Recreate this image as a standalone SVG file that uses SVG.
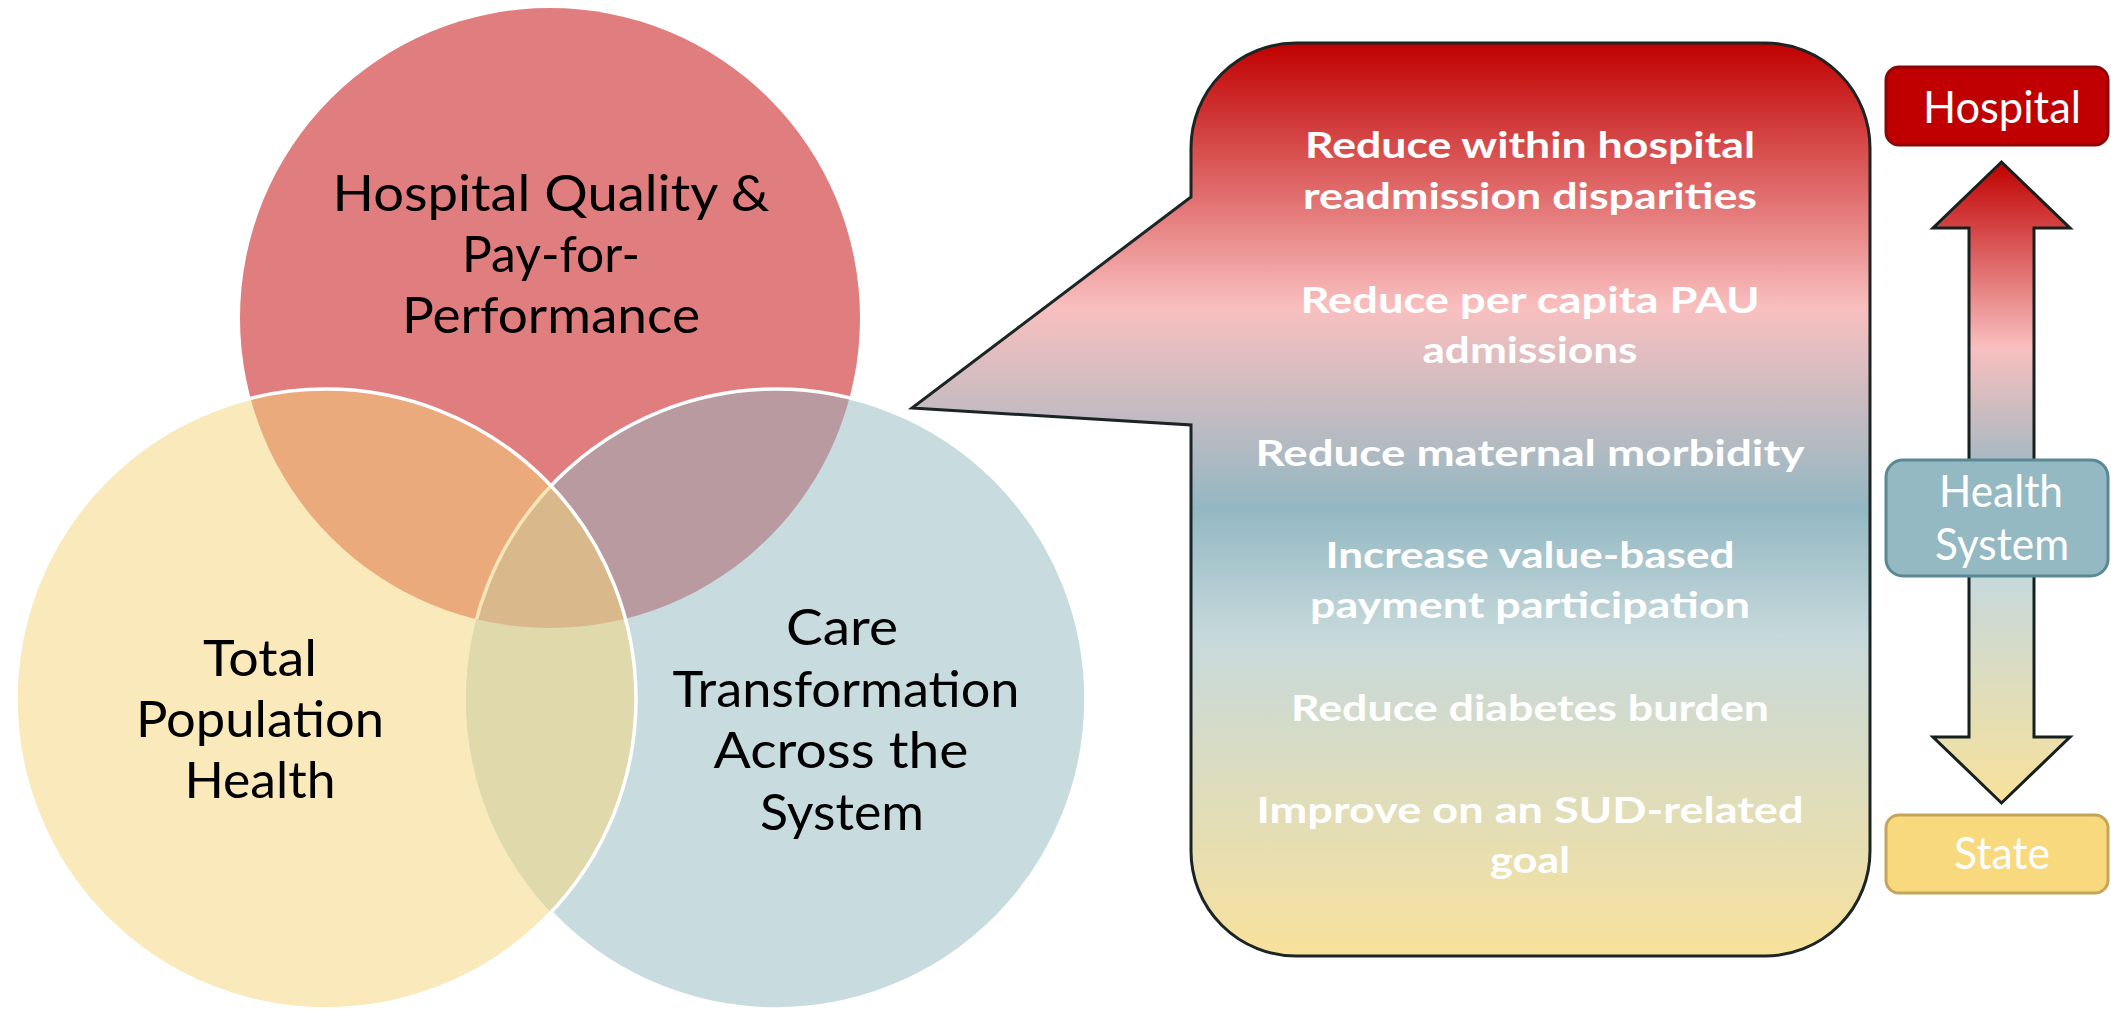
<svg xmlns="http://www.w3.org/2000/svg" width="2111" height="1009" viewBox="0 0 2111 1009">
  <style>
    .venn { font-family: Lato, "Open Sans", "Liberation Sans", sans-serif; font-size: 50px; fill: #000; text-anchor: middle; }
    .goal { font-family: Lato, "Open Sans", "Liberation Sans", sans-serif; font-size: 36px; font-weight: 700; fill: #fff; text-anchor: middle; }
    .lvl { font-family: Lato, "Open Sans", "Liberation Sans", sans-serif; font-size: 45px; fill: #fff; text-anchor: middle; }
    .ring { fill: none; stroke: #fff; stroke-width: 3.5; }
  </style>
  <defs>
    <clipPath id="cR"><circle cx="550" cy="318" r="310"/></clipPath>
    <clipPath id="cY"><circle cx="326" cy="699" r="310"/></clipPath>
    <clipPath id="cB"><circle cx="776" cy="699" r="310"/></clipPath>
    <mask id="notY">
      <rect x="0" y="0" width="2111" height="1009" fill="#fff"/>
      <circle cx="326" cy="699" r="310" fill="#000"/>
    </mask>
    <linearGradient id="spectrum" x1="0" y1="0" x2="0" y2="1">
      <stop offset="0" stop-color="#C00000"/>
      <stop offset="0.29" stop-color="#F9BFBF"/>
      <stop offset="0.51" stop-color="#93B8C3"/>
      <stop offset="0.65" stop-color="#C6D9DB"/>
      <stop offset="1" stop-color="#F8E19B"/>
    </linearGradient>
  </defs>

  <!-- Venn circles -->
  <g id="venn-fills">
    <circle cx="550" cy="318" r="310" fill="#E07D7F"/>
    <circle cx="326" cy="699" r="310" fill="#FAE9BB"/>
    <circle cx="776" cy="699" r="310" fill="#C8DCE0"/>
    <circle cx="326" cy="699" r="310" fill="#EBAA7C" clip-path="url(#cR)"/>
    <circle cx="776" cy="699" r="310" fill="#B99AA0" clip-path="url(#cR)"/>
    <circle cx="776" cy="699" r="310" fill="#DFD9AC" clip-path="url(#cY)"/>
    <g clip-path="url(#cR)">
      <circle cx="776" cy="699" r="310" fill="#D9B98B" clip-path="url(#cY)"/>
    </g>
  </g>
  <g id="venn-outlines">
    <circle class="ring" cx="776" cy="699" r="310" mask="url(#notY)"/>
    <g clip-path="url(#cR)">
      <circle cx="776" cy="699" r="310" fill="none" stroke="#F9E6B8" stroke-width="3.5" clip-path="url(#cY)"/>
    </g>
    <circle class="ring" cx="326" cy="699" r="310"/>
  </g>

  <g id="venn-hospital">
    <text class="venn" x="551" y="211" textLength="437" lengthAdjust="spacingAndGlyphs">Hospital Quality &amp;</text>
    <text class="venn" x="551" y="272" textLength="178" lengthAdjust="spacingAndGlyphs">Pay-for-</text>
    <text class="venn" x="551" y="333" textLength="298" lengthAdjust="spacingAndGlyphs">Performance</text>
  </g>
  <g id="venn-population">
    <text class="venn" x="260" y="676" textLength="114" lengthAdjust="spacingAndGlyphs">Total</text>
    <text class="venn" x="260" y="737" textLength="248" lengthAdjust="spacingAndGlyphs">Population</text>
    <text class="venn" x="260" y="798" textLength="151" lengthAdjust="spacingAndGlyphs">Health</text>
  </g>
  <g id="venn-care">
    <text class="venn" x="842" y="645" textLength="112" lengthAdjust="spacingAndGlyphs">Care</text>
    <text class="venn" x="846" y="707" textLength="347" lengthAdjust="spacingAndGlyphs">Transformation</text>
    <text class="venn" x="841" y="768" textLength="255" lengthAdjust="spacingAndGlyphs">Across the</text>
    <text class="venn" x="842" y="830" textLength="164" lengthAdjust="spacingAndGlyphs">System</text>
  </g>

  <!-- Callout with goals -->
  <g id="callout">
    <path d="M 1296,43 H 1765 A 105 105 0 0 1 1870,148 V 851 A 105 105 0 0 1 1765,956 H 1296 A 105 105 0 0 1 1191,851 V 425 L 912,408 L 1191,197 V 148 A 105 105 0 0 1 1296,43 Z" fill="url(#spectrum)" stroke="#1B2525" stroke-width="3" stroke-linejoin="miter"/>
    <text class="goal" x="1530" y="158" textLength="450" lengthAdjust="spacingAndGlyphs">Reduce within hospital</text>
    <text class="goal" x="1530" y="209" textLength="454" lengthAdjust="spacingAndGlyphs">readmission disparities</text>
    <text class="goal" x="1530" y="313" textLength="459" lengthAdjust="spacingAndGlyphs">Reduce per capita PAU</text>
    <text class="goal" x="1530" y="363" textLength="215" lengthAdjust="spacingAndGlyphs">admissions</text>
    <text class="goal" x="1530" y="466" textLength="549" lengthAdjust="spacingAndGlyphs">Reduce maternal morbidity</text>
    <text class="goal" x="1530" y="568" textLength="409" lengthAdjust="spacingAndGlyphs">Increase value-based</text>
    <text class="goal" x="1530" y="618" textLength="440" lengthAdjust="spacingAndGlyphs">payment participation</text>
    <text class="goal" x="1530" y="721" textLength="478" lengthAdjust="spacingAndGlyphs">Reduce diabetes burden</text>
    <text class="goal" x="1530" y="823" textLength="547" lengthAdjust="spacingAndGlyphs">Improve on an SUD-related</text>
    <text class="goal" x="1530" y="873" textLength="80" lengthAdjust="spacingAndGlyphs">goal</text>
  </g>

  <!-- Connectors -->
  <g id="connectors">
    <path d="M 2001.5,162 L 2070,228 L 2034,228 L 2034,737 L 2070,737 L 2001.5,803 L 1933,737 L 1969,737 L 1969,228 L 1933,228 Z" fill="url(#spectrum)" stroke="#15201F" stroke-width="3" stroke-linejoin="miter"/>
  </g>

  <g id="box-hospital">
    <rect x="1886" y="67" width="222" height="78" rx="13" ry="13" fill="#C00000" stroke="#8E0505" stroke-width="3"/>
    <text class="lvl" x="2002" y="123" textLength="158" lengthAdjust="spacingAndGlyphs">Hospital</text>
  </g>
  <g id="box-health-system">
    <rect x="1886" y="460" width="222" height="116" rx="17" ry="17" fill="#94B9C2" stroke="#5A8894" stroke-width="3"/>
    <text class="lvl" x="2001" y="507" textLength="124" lengthAdjust="spacingAndGlyphs">Health</text>
    <text class="lvl" x="2002" y="560" textLength="134" lengthAdjust="spacingAndGlyphs">System</text>
  </g>
  <g id="box-state">
    <rect x="1886" y="815" width="222" height="78" rx="13" ry="13" fill="#F9D97D" stroke="#C4A55A" stroke-width="3"/>
    <text class="lvl" x="2002" y="869" textLength="96" lengthAdjust="spacingAndGlyphs">State</text>
  </g>
</svg>
